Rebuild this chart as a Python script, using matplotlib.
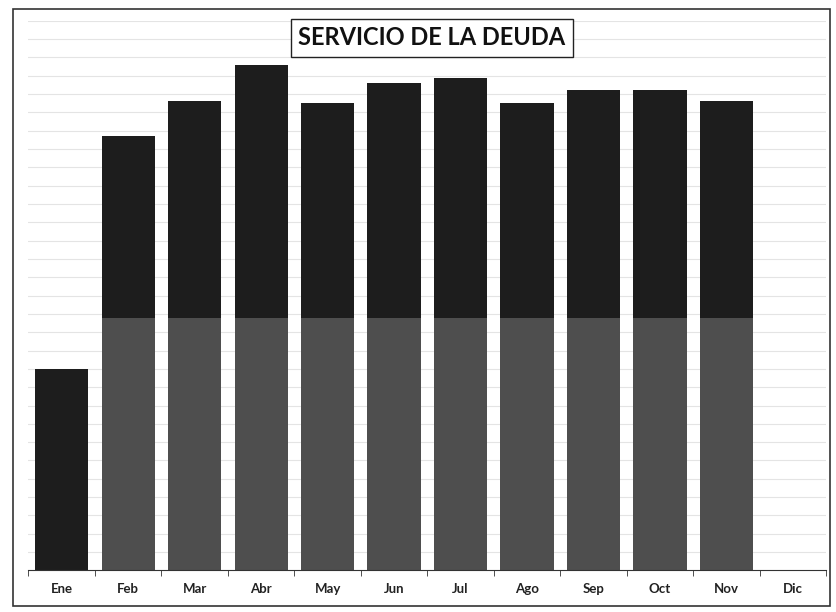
import numpy as np
import matplotlib.pyplot as plt
from matplotlib.patches import Rectangle

# datos (unidades relativas, lineas de rejilla cada 1)
meses = ["Ene", "Feb", "Mar", "Abr", "May", "Jun", "Jul", "Ago", "Sep", "Oct", "Nov", "Dic"]
base = [0, 13.8, 13.8, 13.8, 13.8, 13.8, 13.8, 13.8, 13.8, 13.8, 13.8, 0]
total = [11.0, 23.7, 25.6, 27.6, 25.5, 26.6, 26.9, 25.5, 26.2, 26.2, 25.6, 0]

base = np.array(base)
total = np.array(total)
superior = total - base

fig = plt.figure(figsize=(8.37, 6.12), dpi=100)
ax = fig.add_axes([0.034, 0.068, 0.953, 0.898])

x = np.arange(len(meses))
ax.bar(x, base, width=0.8, color="#4e4e4e", zorder=2)
ax.bar(x, superior, bottom=base, width=0.8, color="#1d1d1d", zorder=2)

ax.set_xlim(-0.5, 11.5)
ax.set_ylim(0, 30)
ax.set_yticks(np.arange(1, 31))
ax.yaxis.grid(True, color="#e4e4e4", linewidth=0.8, zorder=0)
ax.tick_params(axis="y", left=False, labelleft=False)

ax.set_xticks(x)
ax.set_xticklabels(meses, fontsize=9.5, fontweight="bold", family=["Lato", "DejaVu Sans"],
                   color="#222222")
ax.set_xticks(np.arange(-0.5, 12, 1), minor=True)
ax.tick_params(axis="x", which="major", length=0, pad=9)
ax.tick_params(axis="x", which="minor", length=4, direction="out", color="#333333")

for s in ["top", "right", "left"]:
    ax.spines[s].set_visible(False)
ax.spines["bottom"].set_color("#333333")

fig.text(0.516, 0.938, "SERVICIO DE LA DEUDA", ha="center", va="center",
         fontsize=17, fontweight="bold", family=["Lato", "DejaVu Sans"], color="#111111",
         bbox=dict(boxstyle="square,pad=0.3", facecolor="white", edgecolor="#222222", linewidth=1))

# marco exterior
fig.patches.append(Rectangle((0.016, 0.01), 0.976, 0.976, transform=fig.transFigure,
                             fill=False, edgecolor="#333333", linewidth=1.2))

fig.savefig("out.png", dpi=100)
